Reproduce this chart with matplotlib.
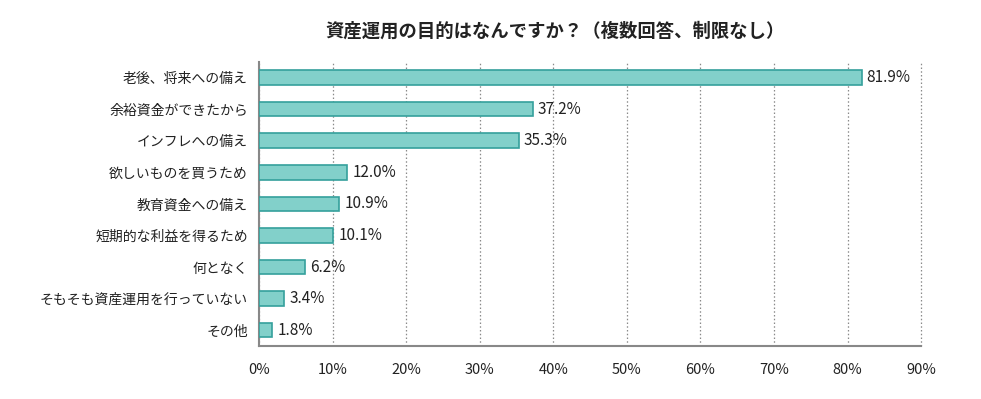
import matplotlib.pyplot as plt

plt.rcParams['font.family'] = ['Noto Sans CJK JP', 'DejaVu Sans']

labels = [
    "老後、将来への備え",
    "余裕資金ができたから",
    "インフレへの備え",
    "欲しいものを買うため",
    "教育資金への備え",
    "短期的な利益を得るため",
    "何となく",
    "そもそも資産運用を行っていない",
    "その他",
]
values = [81.9, 37.2, 35.3, 12.0, 10.9, 10.1, 6.2, 3.4, 1.8]
ticks = [0, 10, 20, 30, 40, 50, 60, 70, 80, 90]

fig = plt.figure(figsize=(9.81, 3.99), dpi=100)
ax = fig.add_axes([0.264, 0.133, 0.675, 0.712])

y = range(len(labels))
ax.barh(y, values, height=0.46, color="#82d0ca", edgecolor="#35a09c", linewidth=1.2, zorder=3)
for i, v in enumerate(values):
    ax.text(v + 0.7, i, f"{v:.1f}%", va="center", ha="left", fontsize=11, color="#222222")

ax.set_yticks(list(y))
ax.set_yticklabels(labels, fontsize=10, color="#222222")
ax.set_ylim(8.5, -0.5)
ax.set_xlim(0, 90)
ax.set_xticks(ticks)
ax.set_xticklabels([f"{t}%" for t in ticks], fontsize=10.5, color="#222222")
ax.tick_params(length=0, pad=8)
ax.tick_params(axis="x", pad=12)
ax.xaxis.grid(True, linestyle=(0, (1.2, 1.8)), color="#8a8a8a", linewidth=0.9, zorder=0)
for gl in ax.get_xgridlines():
    gl.set_clip_on(False)
for s in ["top", "right"]:
    ax.spines[s].set_visible(False)
for s in ["left", "bottom"]:
    ax.spines[s].set_color("#888888")
    ax.spines[s].set_linewidth(1.5)

fig.text(0.566, 0.922, "資産運用の目的はなんですか？（複数回答、制限なし）", ha="center", va="center",
         fontsize=13.2, fontweight="bold", color="#222222")

plt.savefig("out.png")
